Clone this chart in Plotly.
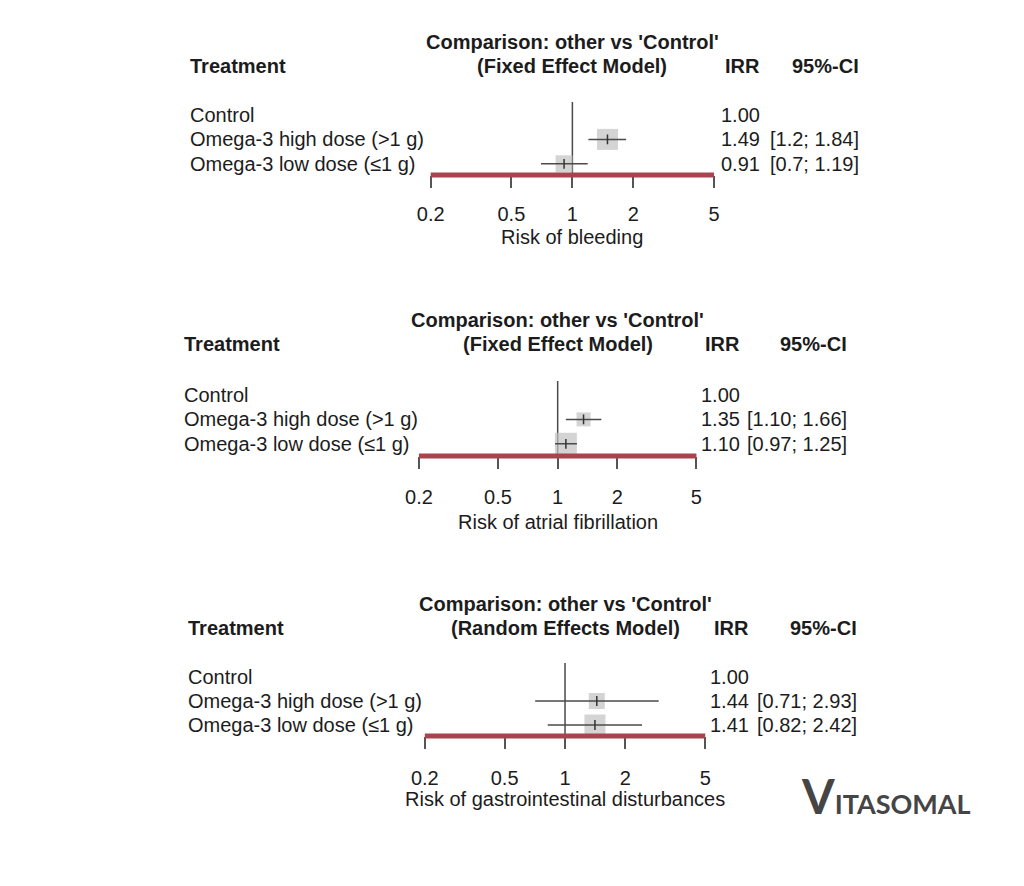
import math
import plotly.graph_objects as go

# ---------------- data ----------------
treatments = ["Control", "Omega-3 high dose (>1 g)", "Omega-3 low dose (\u22641 g)"]
outcomes = ["Risk of bleeding", "Risk of atrial fibrillation",
            "Risk of gastrointestinal disturbances"]
models = ["(Fixed Effect Model)", "(Fixed Effect Model)", "(Random Effects Model)"]

irr_bleeding = [1.00, 1.49, 0.91]
lo_bleeding = [None, 1.2, 0.7]
hi_bleeding = [None, 1.84, 1.19]
ci_text_bleeding = ["", "[1.2; 1.84]", "[0.7; 1.19]"]
weight_bleeding = [None, 21, 17]

irr_af = [1.00, 1.35, 1.10]
lo_af = [None, 1.10, 0.97]
hi_af = [None, 1.66, 1.25]
ci_text_af = ["", "[1.10; 1.66]", "[0.97; 1.25]"]
weight_af = [None, 14, 22]

irr_gi = [1.00, 1.44, 1.41]
lo_gi = [None, 0.71, 0.82]
hi_gi = [None, 2.93, 2.42]
ci_text_gi = ["", "[0.71; 2.93]", "[0.82; 2.42]"]
weight_gi = [None, 16, 21]

tick_vals = [0.2, 0.5, 1, 2, 5]
tick_text = ["0.2", "0.5", "1", "2", "5"]
x_min, x_max = 0.2, 5
ref_value = 1

series = [
    (irr_bleeding, lo_bleeding, hi_bleeding, ci_text_bleeding, weight_bleeding),
    (irr_af, lo_af, hi_af, ci_text_af, weight_af),
    (irr_gi, lo_gi, hi_gi, ci_text_gi, weight_gi),
]

# ---------------- layout (pixel positions) ----------------
W, H = 1024, 886
panels = [
    dict(x0=425, x1=714, lx=177, irr_r=763, ci_r=864, row0=115, sp=24.4, red=175,
         vtop=102, title=42, header=66, xlab=237, standoff=9),
    dict(x0=413, x1=696, lx=171, irr_r=743, ci_r=852, row0=395, sp=24.4, red=456,
         vtop=381, title=320, header=344, xlab=522, standoff=11),
    dict(x0=419, x1=705, lx=175, irr_r=752, ci_r=862, row0=677, sp=24.0, red=736,
         vtop=663, title=604, header=628, xlab=799, standoff=12),
]

FONT = "Liberation Sans, Arial, sans-serif"
TXT = "#1c1c1c"
RED = "#a8444e"
LINE = "#4a4a4a"
SQ = "#c2c2c2"

fig = go.Figure()
annotations = []
shapes = []


def px(v):
    return v / W


def py(v):
    return 1 - v / H


for i, (p, (irr, lo, hi, ci_txt, wts)) in enumerate(zip(panels, series)):
    sfx = "" if i == 0 else str(i + 1)
    xa, ya = "x" + sfx, "y" + sfx
    top_px = p["title"] - 20
    y_bottom = (p["red"] - p["row0"]) / p["sp"]
    y_top = (top_px - p["row0"]) / p["sp"]

    fig.update_layout(**{
        "xaxis" + sfx: dict(
            type="log", range=[math.log10(x_min), math.log10(x_max)],
            domain=[px(p["x0"]), px(p["x1"])], anchor=ya,
            tickvals=tick_vals, ticktext=tick_text, ticks="outside",
            ticklen=12, tickwidth=1.5, tickcolor="#555555",
            showgrid=False, zeroline=False, showline=False,
            tickfont=dict(family=FONT, size=20, color=TXT),
            ticklabelstandoff=p["standoff"], fixedrange=True,
        ),
        "yaxis" + sfx: dict(
            domain=[py(p["red"]), py(top_px)], range=[y_bottom, y_top],
            anchor=xa, visible=False, fixedrange=True,
        ),
    })

    # reference line at 1
    fig.add_trace(go.Scatter(
        x=[ref_value, ref_value], y=[(p["vtop"] - p["row0"]) / p["sp"], y_bottom],
        mode="lines", line=dict(color=LINE, width=1.5), xaxis=xa, yaxis=ya,
        hoverinfo="skip", showlegend=False, cliponaxis=False))

    rows = [r for r in range(len(treatments)) if lo[r] is not None]
    # squares (weights)
    fig.add_trace(go.Scatter(
        x=[irr[r] for r in rows], y=rows, mode="markers",
        marker=dict(symbol="square", size=[wts[r] for r in rows], color=SQ,
                    line=dict(width=0)),
        xaxis=xa, yaxis=ya, showlegend=False, cliponaxis=False))
    # confidence intervals
    for r in rows:
        fig.add_trace(go.Scatter(
            x=[lo[r], hi[r]], y=[r, r], mode="lines",
            line=dict(color=LINE, width=1.5), xaxis=xa, yaxis=ya,
            showlegend=False, cliponaxis=False))
    # point estimate tick
    fig.add_trace(go.Scatter(
        x=[irr[r] for r in rows], y=rows, mode="markers",
        marker=dict(symbol="line-ns", size=7, line=dict(width=1.5, color="#333333")),
        xaxis=xa, yaxis=ya, showlegend=False, cliponaxis=False))

    # red axis band
    shapes.append(dict(type="line", xref=xa + " domain", yref=ya + " domain",
                       x0=0, x1=1, y0=0, y1=0, line=dict(color=RED, width=5),
                       layer="above"))

    cx = px((p["x0"] + p["x1"]) / 2)
    base = dict(showarrow=False, font=dict(family=FONT, size=20, color=TXT))
    annotations += [
        dict(text="<b>Comparison: other vs 'Control'</b>", x=cx, y=py(p["title"]),
             xref="paper", yref="paper", xanchor="center", yanchor="middle", **base),
        dict(text="<b>" + models[i] + "</b>", x=cx, y=py(p["header"]),
             xref="paper", yref="paper", xanchor="center", yanchor="middle", **base),
        dict(text="<b>Treatment</b>", x=px(p["lx"]), y=py(p["header"]),
             xref="paper", yref="paper", xanchor="left", yanchor="middle", **base),
        dict(text="<b>IRR</b>", x=px(p["irr_r"]), y=py(p["header"]),
             xref="paper", yref="paper", xanchor="right", yanchor="middle", **base),
        dict(text="<b>95%-CI</b>", x=px(p["ci_r"]), y=py(p["header"]),
             xref="paper", yref="paper", xanchor="right", yanchor="middle", **base),
        dict(text=outcomes[i], x=cx, y=py(p["xlab"]),
             xref="paper", yref="paper", xanchor="center", yanchor="middle", **base),
    ]
    for r, name in enumerate(treatments):
        annotations.append(dict(text=name, x=px(p["lx"]), y=r, xref="paper", yref=ya,
                                xanchor="left", yanchor="middle", **base))
        annotations.append(dict(text=f"{irr[r]:.2f}", x=px(p["irr_r"]), y=r,
                                xref="paper", yref=ya, xanchor="right",
                                yanchor="middle", **base))
        if ci_txt[r]:
            annotations.append(dict(text=ci_txt[r], x=px(p["ci_r"]), y=r,
                                    xref="paper", yref=ya, xanchor="right",
                                    yanchor="middle", **base))

# logo
annotations.append(dict(
    text="<b><span style='font-size:47px'>V</span>ITASOMAL</b>",
    x=px(801), y=py(826), xref="paper", yref="paper", xanchor="left",
    yanchor="bottom", showarrow=False,
    font=dict(family="Lato, Open Sans, sans-serif", size=27, color="#454545")))

fig.update_layout(
    width=W, height=H, autosize=False,
    margin=dict(l=0, r=0, t=0, b=0),
    paper_bgcolor="white", plot_bgcolor="white",
    showlegend=False, annotations=annotations, shapes=shapes,
)

fig.write_html("out.html", config={"displayModeBar": False},
               post_script="document.body.style.margin='0px';"
                           "document.body.style.overflow='hidden';")
